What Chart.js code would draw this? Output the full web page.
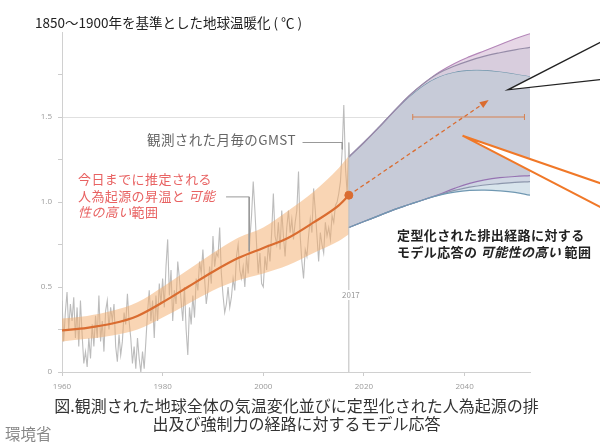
<!DOCTYPE html>
<html>
<head>
<meta charset="utf-8">
<script src="https://cdn.jsdelivr.net/npm/chart.js@4.4.1/dist/chart.umd.min.js"></script>
<style>
  body { margin: 0; background: #fff; }
  #wrap { position: relative; width: 600px; height: 445px; overflow: hidden; font-family: "Noto Sans CJK JP", "Noto Sans", sans-serif; }
  #chart { position: absolute; left: 0; top: 0; }
  .t { position: absolute; white-space: nowrap; }
  .it { font-style: italic; }
</style>
</head>
<body>
<div id="wrap">
  <canvas id="chart" width="600" height="445"></canvas>
  <div class="t" style="left:35px; top:14px; font-size:13.5px; line-height:16px; color:#222;">1850～1900年を基準とした地球温暖化 ( ℃ )</div>
  <div class="t" style="left:147px; top:131px; font-size:13.5px; line-height:16px; color:#666; letter-spacing:0.4px;">観測された月毎のGMST</div>
  <div class="t" style="left:78px; top:171px; font-size:13px; line-height:16.5px; color:#e86262; letter-spacing:0.4px;">今日までに推定される<br>人為起源の昇温と <span class="it">可能</span><br><span class="it">性の高い</span>範囲</div>
  <div class="t" style="left:397px; top:227px; font-size:13px; line-height:16.5px; color:#222; font-weight:bold; letter-spacing:0.4px;">定型化された排出経路に対する<br>モデル応答の <span class="it">可能性の高い</span> 範囲</div>
  <div class="t" style="left:341px; top:290px; font-size:8px; line-height:10px; color:#999; background:#fff; padding:0 1px;">2017</div>
  <div class="t" style="left:0; width:593px; text-align:center; top:396px; font-size:16px; line-height:18px; color:#333;">図.観測された地球全体の気温変化並びに定型化された人為起源の排<br>出及び強制力の経路に対するモデル応答</div>
  <div class="t" style="left:5px; top:425px; font-size:15.5px; line-height:17px; color:#888;">環境省</div>
</div>
<script>
// axes
const xTickYears = [1960, 1980, 2000, 2020, 2040];

// observed monthly GMST (3 readings per year, 1960 - 2017)
const gmstStart = 1960;
const gmstPerYear = 3;
const gmstValues = [
  0.42, 0.18, 0.35,  0.47, 0.25, 0.40,  0.30, 0.44, 0.20,  0.38, 0.15, 0.42,
  0.22, 0.05, 0.12,  0.03, 0.20, 0.08,  0.28, 0.15, 0.33,  0.20, 0.45, 0.18,
  0.30, 0.12, 0.36,  0.42, 0.25, 0.38,  0.30, 0.40, 0.15,  0.06, 0.22, 0.10,
  0.18, 0.35, 0.28,  0.46, 0.30, 0.20,  0.05, 0.15, 0.02,  0.20, 0.08, 0.00,
  0.12, 0.02, 0.18,  0.35, 0.48, 0.30,  0.42, 0.20, 0.45,  0.30, 0.52, 0.40,
  0.55, 0.38, 0.62,  0.78, 0.45, 0.60,  0.30, 0.48, 0.40,  0.65, 0.55, 0.42,
  0.30, 0.50, 0.25,  0.10, 0.38, 0.28,  0.45, 0.32, 0.55,  0.48, 0.65, 0.58,
  0.72, 0.55, 0.40,  0.48, 0.62, 0.52,  0.80, 0.62, 0.70,  0.68, 0.85, 0.58,
  0.45, 0.35, 0.40,  0.50, 0.38, 0.44,  0.55, 0.48, 0.68,  0.75, 0.60, 0.55,
  0.62, 0.50, 0.68,  0.58, 0.78, 0.92,  1.12, 0.95, 0.75,  0.58, 0.70, 0.52,
  0.50, 0.68, 0.60,  0.75, 0.65, 0.82,  1.05, 0.80, 0.75,  0.88, 0.72, 0.95,
  0.80, 0.68, 0.85,  0.95, 0.82, 0.90,  0.78, 0.88, 0.95,  1.18, 0.80, 0.65,
  0.55, 0.72, 0.68,  0.80, 0.90, 0.82,  1.08, 0.95, 0.80,  0.65, 0.82, 0.75,
  0.70, 0.88, 0.80,  0.85, 0.78, 0.92,  0.88, 0.98, 1.00,  1.05, 1.12, 1.30,
  1.57, 1.20, 1.05,  1.35, 1.15, 1.10
];

// human-induced warming to date, with likely range
const trendYears = [1960, 1965, 1970, 1975, 1980, 1985, 1990, 1995, 2000, 2005, 2010, 2015, 2017];
const trendValues = [0.245, 0.26, 0.285, 0.33, 0.41, 0.50, 0.59, 0.67, 0.73, 0.79, 0.88, 0.98, 1.04];
const bandUpper = [0.315, 0.33, 0.36, 0.41, 0.50, 0.60, 0.70, 0.79, 0.85, 0.95, 1.06, 1.20, 1.27];
const bandLower = [0.18, 0.195, 0.215, 0.25, 0.32, 0.40, 0.48, 0.54, 0.58, 0.63, 0.70, 0.77, 0.81];

// model response ranges for stylised pathways
const projYears = [2017, 2020, 2023, 2026, 2029, 2032, 2035, 2038, 2041, 2044, 2047, 2050, 2053];
const projTopOuter = [1.265, 1.35, 1.44, 1.535, 1.625, 1.70, 1.765, 1.815, 1.855, 1.89, 1.925, 1.96, 1.99];
const projTopMid = [1.265, 1.35, 1.44, 1.535, 1.625, 1.70, 1.76, 1.80, 1.832, 1.858, 1.878, 1.895, 1.91];
const projTopInner = [1.265, 1.35, 1.44, 1.535, 1.62, 1.69, 1.738, 1.765, 1.776, 1.776, 1.768, 1.755, 1.74];
const projBotInner = [0.85, 0.885, 0.92, 0.955, 0.985, 1.015, 1.045, 1.08, 1.11, 1.13, 1.143, 1.15, 1.155];
const projBotMid = [0.85, 0.885, 0.92, 0.955, 0.985, 1.015, 1.042, 1.068, 1.088, 1.10, 1.108, 1.115, 1.12];
const projBotOuter = [0.85, 0.885, 0.92, 0.955, 0.985, 1.015, 1.04, 1.058, 1.068, 1.07, 1.066, 1.057, 1.04];

// dashed path, 1.5 range bar, 2017 marker
const arrowYears = [2017, 2044.3];
const arrowValues = [1.04, 1.59];
const rangeYears = [2029.7, 2051.9];
const rangeValues = [1.5, 1.5];
const markYears = [2017, 2017];
const markValues = [0, 1.35];

// leader lines of the labels
const gmstLeaderYears = [2007.8, 2015.7, 2015.7];
const gmstLeaderValues = [1.35, 1.35, 1.31];
const trendLeaderYears = [1992.6, 1997.2, 1997.2];
const trendLeaderValues = [1.03, 1.03, 0.71];

// callouts: tip, then the two far ends off the right edge
const blackCalloutYears = [2048.6, 2067, 2067];
const blackCalloutValues = [1.66, 1.94, 1.72];
const orangeCalloutYears = [2039.6, 2067, 2067];
const orangeCalloutValues = [1.39, 1.11, 0.97];

const ORANGE = "rgb(218,108,48)";

const pts = (xs, ys) => xs.map((x, i) => ({ x: x, y: ys[i] }));
const gmstPoints = gmstValues.map((v, i) => ({ x: gmstStart + i / gmstPerYear, y: v }));

function projLine(values, color, fill, bg, order) {
  return {
    data: pts(projYears, values),
    borderColor: color,
    borderWidth: 1.2,
    backgroundColor: bg,
    fill: fill,
    pointRadius: 0,
    tension: 0.4,
    order: order,
  };
}

const overlay = {
  id: "overlay",
  afterDatasetsDraw(chart) {
    const { ctx, scales } = chart;
    const px = (v) => scales.x.getPixelForValue(v);
    const py = (v) => scales.y.getPixelForValue(v);

    // arrow head on the dashed path
    const x0 = px(arrowYears[0]), y0 = py(arrowValues[0]);
    const x1 = px(arrowYears[1]), y1 = py(arrowValues[1]);
    const a = Math.atan2(y1 - y0, x1 - x0);
    ctx.save();
    ctx.fillStyle = ORANGE;
    ctx.beginPath();
    ctx.moveTo(x1 + 3 * Math.cos(a), y1 + 3 * Math.sin(a));
    ctx.lineTo(x1 - 6 * Math.cos(a) + 3.5 * Math.sin(a), y1 - 6 * Math.sin(a) - 3.5 * Math.cos(a));
    ctx.lineTo(x1 - 6 * Math.cos(a) - 3.5 * Math.sin(a), y1 - 6 * Math.sin(a) + 3.5 * Math.cos(a));
    ctx.closePath();
    ctx.fill();

    // callout wedges
    [[blackCalloutYears, blackCalloutValues, "#222", 1.3],
     [orangeCalloutYears, orangeCalloutValues, "rgb(240,120,40)", 2]].forEach(([xs, ys, color, w]) => {
      const p = xs.map((v, i) => [px(v), py(ys[i])]);
      ctx.beginPath();
      ctx.moveTo(p[1][0], p[1][1]);
      ctx.lineTo(p[0][0], p[0][1]);
      ctx.lineTo(p[2][0], p[2][1]);
      ctx.closePath();
      ctx.fillStyle = "#fff";
      ctx.fill();
      ctx.beginPath();
      ctx.moveTo(p[1][0], p[1][1]);
      ctx.lineTo(p[0][0], p[0][1]);
      ctx.lineTo(p[2][0], p[2][1]);
      ctx.strokeStyle = color;
      ctx.lineWidth = w;
      ctx.lineJoin = "miter";
      ctx.stroke();
    });
    ctx.restore();
  },
};

new Chart(document.getElementById("chart"), {
  type: "line",
  data: {
    datasets: [
      // observed
      { data: gmstPoints, borderColor: "#bcbcbc", borderWidth: 1.1, pointRadius: 0, tension: 0, order: 20 },
      // likely range of human-induced warming
      { data: pts(trendYears, bandUpper), borderWidth: 0, backgroundColor: "rgba(244,172,105,0.5)",
        fill: "+1", pointRadius: 0, cubicInterpolationMode: "monotone", order: 18 },
      { data: pts(trendYears, bandLower), borderWidth: 0, pointRadius: 0, cubicInterpolationMode: "monotone", order: 19 },
      // projection ranges (indices 3..8)
      projLine(projTopOuter, "rgb(180,135,185)", "+1", "rgb(230,214,230)", 16),
      projLine(projTopMid, "rgb(150,140,168)", "+1", "rgb(216,205,221)", 15),
      projLine(projTopInner, "rgb(112,150,172)", 6, "rgb(199,203,216)", 17),
      projLine(projBotInner, "rgb(150,115,178)", "+1", "rgb(207,214,227)", 14),
      projLine(projBotMid, "rgb(140,150,172)", "+1", "rgb(216,228,236)", 13),
      projLine(projBotOuter, "rgb(112,152,178)", false, "transparent", 12),
      // 2017 marker line and label leaders
      { data: pts(markYears, markValues), borderColor: "#bbb", borderWidth: 1, pointRadius: 0, order: 11 },
      { data: pts(gmstLeaderYears, gmstLeaderValues), borderColor: "#999", borderWidth: 1, pointRadius: 0, order: 5 },
      { data: pts(trendLeaderYears, trendLeaderValues), borderColor: "#999", borderWidth: 1, pointRadius: 0, order: 5 },
      // central estimate
      { data: pts(trendYears, trendValues), borderColor: ORANGE, borderWidth: 2.2, pointRadius: 0,
        cubicInterpolationMode: "monotone", order: 3 },
      // dashed continuation
      { data: pts(arrowYears, arrowValues), borderColor: ORANGE, borderWidth: 1.3, borderDash: [4, 3],
        pointRadius: 0, order: 2 },
      // range at 1.5
      { data: pts(rangeYears, rangeValues), borderColor: "rgb(215,130,80)", borderWidth: 1.2,
        pointStyle: "line", pointRotation: 90, pointRadius: 3, pointBorderColor: "rgb(215,130,80)",
        pointBorderWidth: 1, order: 2 },
      // 2017 dot
      { data: [{ x: trendYears[trendYears.length - 1], y: trendValues[trendValues.length - 1] }],
        pointRadius: 4, pointBackgroundColor: ORANGE, pointBorderColor: ORANGE, showLine: false, order: 1 },
    ],
  },
  options: {
    responsive: false,
    animation: false,
    layout: { padding: { top: 32, right: 70, left: 0, bottom: 0 } },
    plugins: { legend: { display: false }, tooltip: { enabled: false }, title: { display: false } },
    scales: {
      x: {
        type: "linear",
        min: 1960,
        max: 2053,
        afterBuildTicks: (s) => { s.ticks = xTickYears.map((v) => ({ value: v })); },
        afterFit: (s) => { s.height = 73; },
        ticks: { font: { size: 8, family: "Open Sans" }, color: "#9a9a9a", padding: 6, maxRotation: 0,
          callback: (v) => String(v) },
        grid: { drawOnChartArea: false, tickLength: 4, tickColor: "#ccc" },
        border: { color: "#d0d0d0" },
      },
      y: {
        min: 0,
        max: 2.0,
        afterFit: (s) => { s.width = 62; },
        ticks: {
          stepSize: 0.25,
          font: { size: 8, family: "Open Sans" },
          color: "#9a9a9a",
          padding: 6,
          callback: (v) => {
            if (v >= 2) return null;
            if (v % 0.5 === 0) return v === 0 ? "0" : v.toFixed(1);
            return "";
          },
        },
        grid: {
          color: (c) => (c.tick && c.tick.value === 1.5 ? "#e0e0e0" : "rgba(0,0,0,0)"),
          tickColor: "#ccc",
          tickLength: 4,
        },
        border: { color: "#d0d0d0" },
      },
    },
  },
  plugins: [overlay],
});
</script>
</body>
</html>
